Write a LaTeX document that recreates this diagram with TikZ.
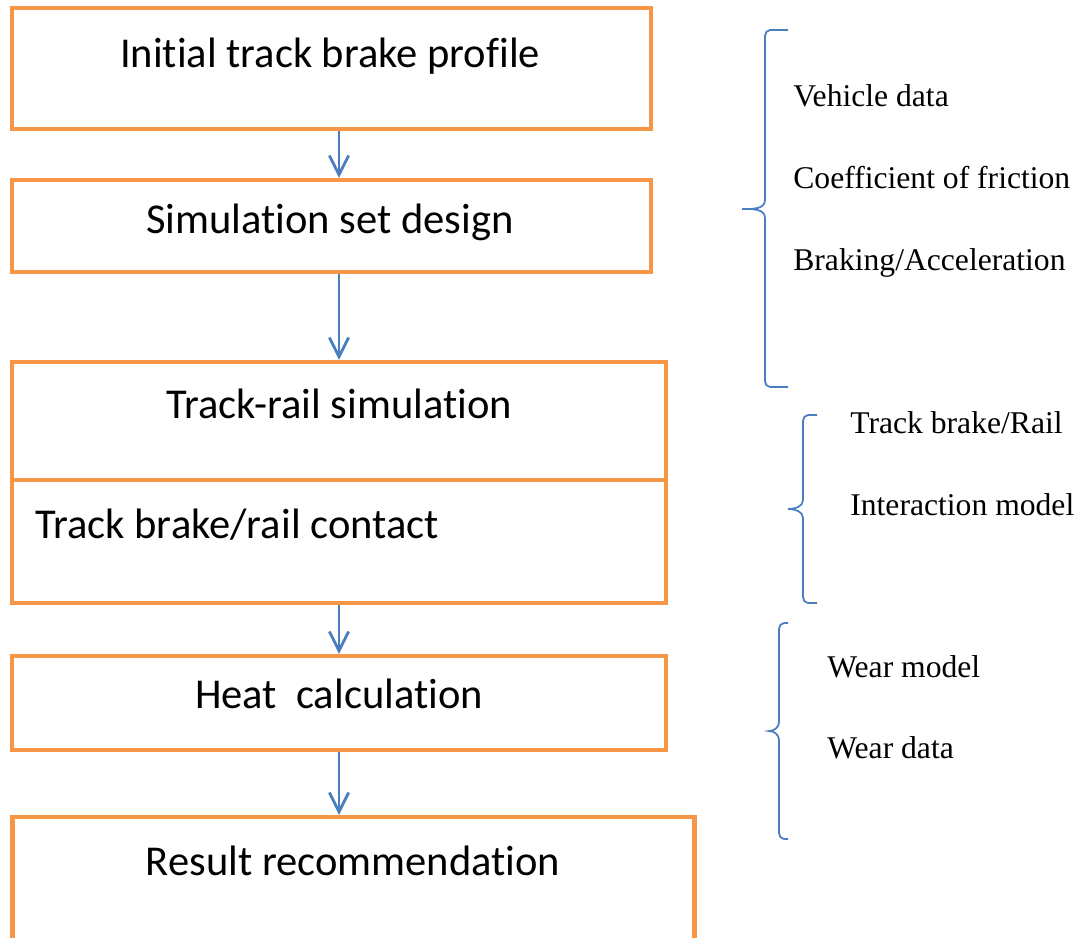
\documentclass[tikz,border=0pt]{standalone}
\usepackage{fontspec}
\setmainfont{Liberation Serif}
\newfontfamily\boxfont[Ligatures=CommonOff]{Carlito}
\usetikzlibrary{arrows.meta}
\definecolor{boxorange}{RGB}{247,150,70}
\definecolor{lineblue}{RGB}{74,126,193}
\tikzset{
  box/.style={draw=boxorange,line width=2.3pt,inner sep=0pt},
  boxtext/.style={inner sep=0pt,anchor=base,font=\boxfont\fontsize{24.2}{28}\selectfont},
  sidetext/.style={inner sep=0pt,anchor=base west,font=\fontsize{18}{22}\selectfont},
  flow/.style={draw=lineblue,line width=1.6pt,-{Straight Barb[length=11pt,width=11pt]}},
  bracket/.style={draw=lineblue,line width=1pt}
}
\begin{document}
\begin{tikzpicture}[x=0.02cm,y=-0.02cm]
\useasboundingbox (0,0) rectangle (1082,937);
\foreach \x/\y/\w/\h/\n in {331.5/68.5/639/121/b1, 331.5/226/639/92/b2, 339/421/654/118/b3, 339/541.5/654/123/b4, 339/703/654/94/b5, 353.5/880/682/126/b6}
  \node[box,minimum width=\w*0.02cm,minimum height=\h*0.02cm] (\n) at (\x,\y) {};
\foreach \x/\y/\n/\t in {330/67/t1/Initial track brake profile, 330/233/t2/Simulation set design, 339/418/t3/Track-rail simulation, 339/708/t5/Heat\ \ calculation, 353/875/t6/Result recommendation}
  \node[boxtext] (\n) at (\x,\y) {\t};
\node[boxtext,anchor=base west] (t4) at (35,538) {Track brake/rail contact};
\foreach \s/\t in {b1/b2, b2/b3, b4/b5, b5/b6}
  \draw[flow] (\s.south -| b3) -- (\t.north -| b3);

\foreach \x/\y/\n/\t in {793/106/l1/Vehicle data, 793/188/l2/Coefficient of friction, 793/270/l3/{Braking/Acceleration}, 850/433/l4/{Track brake/Rail}, 850/515/l5/Interaction model, 827/677/l6/Wear model, 827/758/l7/Wear data}
  \node[sidetext] (\n) at (\x,\y) {\t};
% braces
\foreach \x/\ya/\ym/\yb/\w/\e in {765/30/209/387/23/23, 803/415/509/603/15/14, 779/623/731/839/10/9}
  \draw[bracket] (\x+\e,\ya) -- (\x+5,\ya) to[out=180,in=90] (\x,\ya+6) -- (\x,\ym-9)
    to[out=-90,in=0] (\x-\w,\ym) to[out=0,in=90] (\x,\ym+9) -- (\x,\yb-6)
    to[out=-90,in=180] (\x+5,\yb) -- (\x+\e,\yb);
\end{tikzpicture}
\end{document}
